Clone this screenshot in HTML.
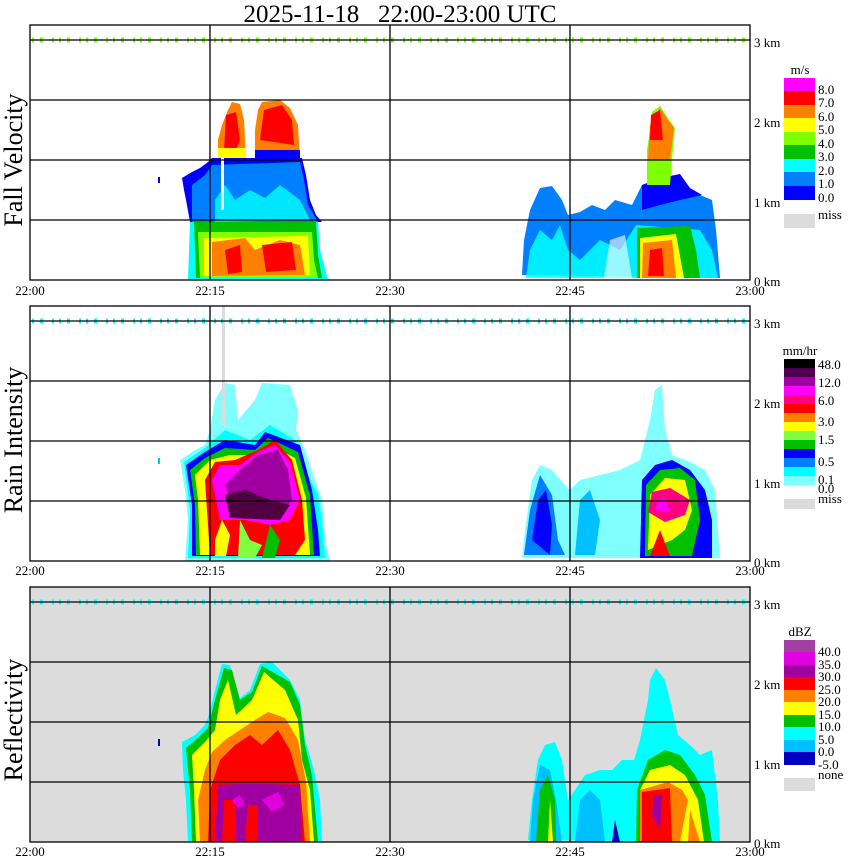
<!DOCTYPE html>
<html><head><meta charset="utf-8"><style>
body{margin:0;background:#fff;}
svg{display:block;}
.t{font-family:"Liberation Serif",serif;}
.s{font-family:"Liberation Serif",serif;font-size:13px;}
</style></head><body>
<svg width="850" height="868" viewBox="0 0 850 868" xmlns="http://www.w3.org/2000/svg">
<text x="400" y="22" text-anchor="middle" class="t" font-size="25" xml:space="preserve" style="white-space:pre">2025-11-18   22:00-23:00 UTC</text>

<!-- ========== PANEL 1 ========== -->
<g>
<rect x="30" y="25" width="720" height="255" fill="#fff"/>
<polygon points="182,178 192,172 200,168 208,162 212,158 302,158 306,175 310,200 316,215 322,222 190,222 186,200 184,190" fill="#0000ff"/>
<polygon points="192,185 205,175 212,165 300,162 304,180 308,205 318,222 192,222" fill="#0080ff"/>
<polygon points="215,200 225,185 235,200 250,190 265,198 280,185 300,200 310,220 215,222" fill="#00ffff" opacity="0.8"/>
<polygon points="190,222 318,222 320,250 328,280 188,280" fill="#00ffff"/>
<polygon points="194,222 316,222 318,255 322,278 196,278" fill="#00c000"/>
<polygon points="198,232 312,232 314,260 318,278 200,278" fill="#80ff00"/>
<polygon points="204,238 308,236 310,275 204,276" fill="#ffff00"/>
<polygon points="212,242 245,238 255,250 280,240 300,245 305,275 212,276" fill="#ff8000"/>
<polygon points="225,250 240,245 242,272 228,274" fill="#ff0000"/>
<polygon points="262,245 292,242 296,270 266,272" fill="#ff0000"/>
<polygon points="218,158 218,140 222,125 228,110 232,102 240,104 244,120 246,158" fill="#ff8000"/>
<polygon points="224,150 226,115 236,112 240,140 236,150" fill="#ff0000"/>
<polygon points="218,158 218,148 246,148 246,158" fill="#ffff00"/>
<polygon points="255,158 255,130 258,110 262,102 280,100 290,108 298,125 300,158" fill="#ff8000"/>
<polygon points="260,140 264,110 282,105 292,120 294,145" fill="#ff0000"/>
<polygon points="255,150 300,150 300,158 255,158" fill="#0000ff"/>
<rect x="221" y="158" width="3" height="52" fill="#ffffff"/>
<rect x="158" y="177" width="2" height="6" fill="#0000ff"/>
<polygon points="522,275 524,240 530,210 540,188 552,186 562,200 568,215 580,212 592,205 605,210 615,200 632,205 642,185 660,180 680,175 690,190 700,195 712,200 716,230 720,278" fill="#0080ff"/>
<polygon points="642,185 660,178 680,174 690,188 702,195 680,200 660,205 642,210" fill="#0000ff"/>
<polygon points="526,278 530,250 540,230 552,240 560,225 568,250 580,260 600,240 620,250 636,225 700,230 712,250 718,278" fill="#00ffff" opacity="0.85"/>
<polygon points="604,278 610,240 625,235 632,278" fill="#ffffff" opacity="0.6"/>
<polygon points="637,278 637,228 690,226 696,250 700,278" fill="#00c000"/>
<polygon points="640,278 640,238 676,234 684,278" fill="#ffff00"/>
<polygon points="642,278 643,243 672,240 676,278" fill="#ff8000"/>
<polygon points="648,276 650,250 662,248 664,276" fill="#ff0000"/>
<polygon points="647,185 647,150 650,130 652,112 660,106 668,118 675,128 672,160 670,185" fill="#80ff00"/>
<polygon points="648,160 650,125 660,108 668,120 674,128 670,160" fill="#ff8000"/>
<polygon points="650,140 651,115 660,110 663,140" fill="#ff0000"/>
<line x1="32" y1="40" x2="748" y2="40" stroke="#80ff00" stroke-width="5" stroke-dasharray="2 6 3 9 2 5"/>
<g stroke="#000" stroke-width="1.3" fill="none">
<line x1="30" y1="40" x2="750" y2="40"/><line x1="30" y1="100" x2="750" y2="100"/>
<line x1="30" y1="160" x2="750" y2="160"/><line x1="30" y1="220" x2="750" y2="220"/>
<line x1="210" y1="25" x2="210" y2="280"/><line x1="390" y1="25" x2="390" y2="280"/><line x1="570" y1="25" x2="570" y2="280"/>
<rect x="30" y="25" width="720" height="255"/>
</g>
</g>

<!-- ========== PANEL 2 ========== -->
<g>
<rect x="30" y="306" width="720" height="255" fill="#fff"/>
<polygon points="180,460 195,450 205,445 210,430 215,400 225,383 235,385 238,420 255,400 262,383 290,385 298,410 296,430 305,450 315,480 322,500 325,540 330,561 185,561 188,520 185,490" fill="#80ffff"/>
<polygon points="184,462 205,448 225,430 250,440 270,425 295,440 305,470 318,495 322,520 325,558 188,558 190,510" fill="#00ffff"/>
<polygon points="186,465 205,452 225,440 255,445 265,432 300,445 312,490 318,530 320,556 192,556 192,505" fill="#0000ff"/>
<polygon points="190,470 205,458 225,448 255,450 268,438 298,452 310,495 314,555 196,555 195,505" fill="#00c000"/>
<polygon points="195,475 210,460 230,455 260,455 270,445 295,458 306,498 310,555 200,555 198,500" fill="#ffff00"/>
<polygon points="205,480 215,462 235,460 258,450 275,440 292,460 302,500 305,540 295,555 210,555" fill="#ff0000"/>
<polygon points="212,480 220,465 240,465 258,452 275,445 290,462 300,500 290,520 270,525 245,520 220,520" fill="#ff00ff"/>
<polygon points="225,485 240,470 258,455 278,450 288,470 292,500 280,515 255,515 235,515" fill="#a000a0"/>
<polygon points="225,495 245,490 270,500 290,505 280,520 230,518" fill="#500040"/>
<polygon points="240,520 250,540 262,545 255,558 238,558" fill="#80ff40"/>
<polygon points="270,525 280,540 275,558 262,558" fill="#00c000"/>
<polygon points="215,540 222,520 230,535 226,556 215,556" fill="#ffff00"/>
<rect x="222" y="306" width="3" height="120" fill="#dcdcdc"/>
<rect x="158" y="458" width="2" height="6" fill="#00c0ff"/>
<polygon points="522,558 525,530 532,480 540,465 552,470 565,485 570,490 580,480 600,475 620,470 640,460 650,420 655,390 662,385 665,430 672,455 690,462 705,470 715,490 720,558" fill="#80ffff"/>
<polygon points="524,555 530,510 540,475 552,495 558,540 565,555" fill="#0080ff"/>
<polygon points="532,540 538,500 546,490 552,525 550,555" fill="#0000ff"/>
<polygon points="575,555 580,500 590,490 600,520 595,555" fill="#00c0ff"/>
<polygon points="640,558 642,480 655,465 672,460 690,470 705,490 712,520 712,558" fill="#0000ff"/>
<polygon points="645,556 646,485 660,470 680,468 695,480 700,520 692,556" fill="#00c000"/>
<polygon points="648,550 650,495 665,478 685,480 692,510 685,530 672,540" fill="#ffff00"/>
<polygon points="648,512 652,492 670,488 690,500 685,515 665,522" fill="#ff0080"/>
<polygon points="655,510 658,500 665,498 670,512" fill="#ff00ff"/>
<polygon points="650,556 660,530 670,556" fill="#ff0000"/>
<line x1="32" y1="321" x2="748" y2="321" stroke="#00ffff" stroke-width="5" stroke-dasharray="2 6 3 9 2 5"/>
<g stroke="#000" stroke-width="1.3" fill="none">
<line x1="30" y1="321" x2="750" y2="321"/><line x1="30" y1="381" x2="750" y2="381"/>
<line x1="30" y1="441" x2="750" y2="441"/><line x1="30" y1="501" x2="750" y2="501"/>
<line x1="210" y1="306" x2="210" y2="561"/><line x1="390" y1="306" x2="390" y2="561"/><line x1="570" y1="306" x2="570" y2="561"/>
<rect x="30" y="306" width="720" height="255"/>
</g>
</g>

<!-- ========== PANEL 3 ========== -->
<g>
<rect x="30" y="587" width="720" height="255" fill="#dcdcdc"/>
<polygon points="182,742 195,735 205,725 210,712 215,690 222,664 230,665 238,700 250,690 260,664 272,662 290,680 300,700 305,740 314,770 320,800 322,842 188,842 186,800 183,770" fill="#00ffff"/>
<polygon points="186,748 198,738 208,728 215,700 224,668 232,670 240,700 252,692 262,666 290,682 300,705 305,745 312,775 318,842 192,842 190,790" fill="#00c000"/>
<polygon points="192,755 205,742 215,730 220,700 228,680 236,715 252,700 264,672 285,690 298,720 302,760 310,790 314,842 196,842 194,790" fill="#ffff00"/>
<polygon points="198,800 205,770 212,752 225,740 240,730 255,720 268,712 285,718 298,740 306,782 310,842 200,842" fill="#ff8000"/>
<polygon points="208,842 210,790 220,760 235,745 250,735 262,745 278,730 290,750 300,785 305,842" fill="#ff0000"/>
<polygon points="215,842 218,785 240,784 265,784 300,785 302,842" fill="#a000a0"/>
<polygon points="222,842 224,800 236,800 236,842" fill="#ff0000"/>
<polygon points="245,842 248,805 258,805 258,842" fill="#ff0000"/>
<polygon points="232,800 240,795 245,805 238,808" fill="#e000e0"/>
<polygon points="262,800 278,792 285,805 272,812" fill="#e000e0"/>
<rect x="158" y="739" width="2" height="7" fill="#0000c0"/>
<polygon points="528,840 532,800 538,760 545,745 555,742 562,760 568,800 575,790 585,775 600,770 612,770 622,760 634,760 640,740 648,700 650,680 656,668 665,680 670,700 678,735 690,745 700,755 712,750 718,800 720,842" fill="#00ffff"/>
<polygon points="530,842 533,800 540,765 550,770 556,800 562,842" fill="#00c0ff"/>
<polygon points="536,842 540,790 548,775 555,800 556,842" fill="#00c000"/>
<polygon points="548,842 550,800 553,842" fill="#ffff00"/>
<polygon points="575,842 580,800 590,790 600,800 605,842" fill="#00c0ff"/>
<polygon points="612,842 615,820 620,842" fill="#0000c0"/>
<polygon points="636,842 637,790 648,760 665,750 680,755 695,775 705,795 712,842" fill="#00c000"/>
<polygon points="640,842 640,790 650,770 670,765 685,775 698,800 704,842" fill="#ffff00"/>
<polygon points="640,842 640,790 668,782 682,790 688,800 680,842" fill="#ff8000"/>
<polygon points="642,842 642,792 670,788 672,842" fill="#ff0000"/>
<polygon points="652,815 654,795 662,795 660,830" fill="#a000a0"/>
<polygon points="688,842 690,810 700,842" fill="#ff8000"/>
<line x1="32" y1="602" x2="748" y2="602" stroke="#00ffff" stroke-width="5" stroke-dasharray="2 6 3 9 2 5"/>
<g stroke="#000" stroke-width="1.3" fill="none">
<line x1="30" y1="602" x2="750" y2="602"/><line x1="30" y1="662" x2="750" y2="662"/>
<line x1="30" y1="722" x2="750" y2="722"/><line x1="30" y1="782" x2="750" y2="782"/>
<line x1="210" y1="587" x2="210" y2="842"/><line x1="390" y1="587" x2="390" y2="842"/><line x1="570" y1="587" x2="570" y2="842"/>
<rect x="30" y="587" width="720" height="255"/>
</g>
</g>

<!-- y labels -->
<text transform="translate(22,160) rotate(-90)" text-anchor="middle" class="t" font-size="26">Fall Velocity</text>
<text transform="translate(22,440) rotate(-90)" text-anchor="middle" class="t" font-size="26">Rain Intensity</text>
<text transform="translate(22,720) rotate(-90)" text-anchor="middle" class="t" font-size="26">Reflectivity</text>

<g class="s" text-anchor="middle" font-size="13" font-family="Liberation Sans, sans-serif">
<text x="30" y="295">22:00</text><text x="210" y="295">22:15</text><text x="390" y="295">22:30</text><text x="570" y="295">22:45</text><text x="750" y="295">23:00</text>
<text x="30" y="575">22:00</text><text x="210" y="575">22:15</text><text x="390" y="575">22:30</text><text x="570" y="575">22:45</text><text x="750" y="575">23:00</text>
<text x="30" y="856">22:00</text><text x="210" y="856">22:15</text><text x="390" y="856">22:30</text><text x="570" y="856">22:45</text><text x="750" y="856">23:00</text>
</g>
<g class="s">
<text x="754" y="47">3 km</text><text x="754" y="127">2 km</text><text x="754" y="207">1 km</text><text x="754" y="286">0 km</text>
<text x="754" y="328">3 km</text><text x="754" y="408">2 km</text><text x="754" y="488">1 km</text><text x="754" y="567">0 km</text>
<text x="754" y="609">3 km</text><text x="754" y="689">2 km</text><text x="754" y="769">1 km</text><text x="754" y="848">0 km</text>
</g>

<g class="s" font-size="11">
<text x="800" y="74" text-anchor="middle">m/s</text>
<rect x="784" y="78" width="31" height="14" fill="#ff00ff"/>
<rect x="784" y="91" width="31" height="14" fill="#ff0000"/>
<rect x="784" y="105" width="31" height="14" fill="#ff8000"/>
<rect x="784" y="118" width="31" height="14" fill="#ffff00"/>
<rect x="784" y="132" width="31" height="14" fill="#80ff00"/>
<rect x="784" y="145" width="31" height="14" fill="#00c000"/>
<rect x="784" y="159" width="31" height="14" fill="#00ffff"/>
<rect x="784" y="172" width="31" height="14" fill="#0080ff"/>
<rect x="784" y="186" width="31" height="14" fill="#0000ff"/>
<rect x="784" y="214" width="31" height="14" fill="#dcdcdc"/>
<text x="818" y="94">8.0</text><text x="818" y="107">7.0</text><text x="818" y="121">6.0</text><text x="818" y="134">5.0</text><text x="818" y="148">4.0</text><text x="818" y="161">3.0</text><text x="818" y="175">2.0</text><text x="818" y="188">1.0</text><text x="818" y="202">0.0</text><text x="818" y="219">miss</text>
</g>
<g class="s" font-size="11">
<text x="800" y="355" text-anchor="middle">mm/hr</text>
<rect x="784" y="359" width="31" height="9.5" fill="#000000"/>
<rect x="784" y="368" width="31" height="9.5" fill="#500050"/>
<rect x="784" y="377" width="31" height="9.5" fill="#a000a0"/>
<rect x="784" y="386" width="31" height="9.5" fill="#ff00ff"/>
<rect x="784" y="395" width="31" height="9.5" fill="#ff0080"/>
<rect x="784" y="404" width="31" height="9.5" fill="#ff0000"/>
<rect x="784" y="413" width="31" height="9.5" fill="#ff8000"/>
<rect x="784" y="422" width="31" height="9.5" fill="#ffff00"/>
<rect x="784" y="431" width="31" height="9.5" fill="#80ff40"/>
<rect x="784" y="440" width="31" height="9.5" fill="#00c000"/>
<rect x="784" y="449" width="31" height="9.5" fill="#0000ff"/>
<rect x="784" y="458" width="31" height="9.5" fill="#0080ff"/>
<rect x="784" y="467" width="31" height="9.5" fill="#00ffff"/>
<rect x="784" y="476" width="31" height="9.5" fill="#80ffff"/>
<rect x="784" y="499" width="31" height="10" fill="#dcdcdc"/>
<text x="818" y="369">48.0</text><text x="818" y="387">12.0</text><text x="818" y="405">6.0</text><text x="818" y="426">3.0</text><text x="818" y="444">1.5</text><text x="818" y="466">0.5</text><text x="818" y="484">0.1</text><text x="818" y="493">0.0</text><text x="818" y="503">miss</text>
</g>
<g class="s" font-size="11">
<text x="800" y="636" text-anchor="middle">dBZ</text>
<rect x="784" y="640" width="31" height="13" fill="#a040a0"/>
<rect x="784" y="652" width="31" height="13" fill="#e000e0"/>
<rect x="784" y="665" width="31" height="13" fill="#a000a0"/>
<rect x="784" y="677" width="31" height="13" fill="#ff0000"/>
<rect x="784" y="690" width="31" height="13" fill="#ff8000"/>
<rect x="784" y="702" width="31" height="13" fill="#ffff00"/>
<rect x="784" y="715" width="31" height="13" fill="#00c000"/>
<rect x="784" y="727" width="31" height="13" fill="#00ffff"/>
<rect x="784" y="740" width="31" height="13" fill="#00c0ff"/>
<rect x="784" y="752" width="31" height="13" fill="#0000c0"/>
<rect x="784" y="778" width="31" height="13" fill="#dcdcdc"/>
<text x="818" y="656">40.0</text><text x="818" y="669">35.0</text><text x="818" y="681">30.0</text><text x="818" y="694">25.0</text><text x="818" y="706">20.0</text><text x="818" y="719">15.0</text><text x="818" y="731">10.0</text><text x="818" y="744">5.0</text><text x="818" y="756">0.0</text><text x="818" y="769">-5.0</text><text x="818" y="779">none</text>
</g>
</svg>
</body></html>
